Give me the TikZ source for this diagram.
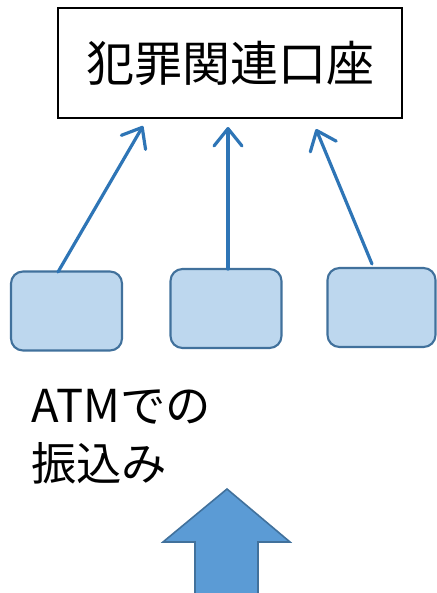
\documentclass[tikz,border=0pt]{standalone}
\usepackage{fontspec}
\setmainfont{Noto Sans CJK JP}
\usetikzlibrary{arrows.meta}
\definecolor{boxfill}{HTML}{BDD7EE}
\definecolor{boxline}{HTML}{41719C}
\definecolor{arrline}{HTML}{2E75B6}
\definecolor{bigfill}{HTML}{5B9BD5}
\tikzset{
  smallbox/.style={draw=boxline, fill=boxfill, line width=1.6pt, rounded corners=9pt, inner sep=0pt},
  linkarrow/.style={draw=arrline, line width=2.4pt, line cap=round, line join=round,
     -{Straight Barb[length=13pt,width=21pt,line cap=round,line join=round]}},
}
\begin{document}
\begin{tikzpicture}[x=0.75pt,y=-0.75pt]
\useasboundingbox (0,0) rectangle (436,593);
\node[draw=black, line width=1.5pt, minimum width=344*0.75pt, minimum height=110*0.75pt, inner sep=0pt,
  font=\fontsize{36pt}{40pt}\selectfont] (acct) at (230,63) {犯罪関連口座};
\node[smallbox, minimum width=111*0.75pt, minimum height=79*0.75pt] (b1) at (66.5,311) {};
\node[smallbox, minimum width=111*0.75pt, minimum height=79*0.75pt] (b2) at (226,308.5) {};
\node[smallbox, minimum width=108*0.75pt, minimum height=79*0.75pt] (b3) at (381.5,307.5) {};
\coordinate (s1) at (58,272);
\coordinate (s2) at (228,269);
\coordinate (s3) at (372,264);
\coordinate (t1) at (143,126);
\coordinate (t2) at (228,127);
\coordinate (t3) at (316,129);
\draw[linkarrow] (s1) -- (t1);
\draw[linkarrow] (s2) -- (t2);
\draw[linkarrow] (s3) -- (t3);
\node[anchor=base west, align=left, inner sep=0pt, font=\fontsize{34pt}{43pt}\selectfont] (atm) at (31,480) {ATMでの\\振込み};
\draw[draw=boxline, fill=bigfill, line width=1.2pt, line join=miter]
  (227,489) -- (290,542) -- (258,542) -- (258,600) -- (195,600) -- (195,542) -- (163,542) -- cycle;
\end{tikzpicture}
\end{document}
